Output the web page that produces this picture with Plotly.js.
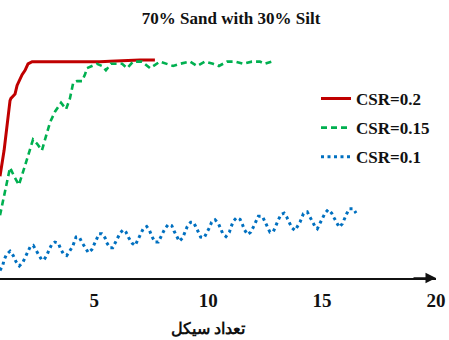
<!DOCTYPE html>
<html>
<head>
<meta charset="utf-8">
<script src="https://cdn.plot.ly/plotly-3.0.1.min.js"></script>
<style>
  html, body { margin: 0; padding: 0; background: #fff; }
  #chart { width: 449px; height: 340px; }
</style>
</head>
<body>
<div id="chart"></div>
<script>
// Pore pressure build-up against number of loading cycles, three cyclic stress ratios
const seriesNames = ['CSR=0.2', 'CSR=0.15', 'CSR=0.1'];

const cyclesCsr020 = [0.86, 1.04, 1.30, 1.34, 1.43, 1.52, 1.61, 1.65, 1.83, 1.96, 2.09, 2.27, 2.62, 3.05, 3.49, 3.93, 4.37, 4.81, 5.25, 5.69, 6.13, 6.56, 7.00, 7.33, 7.66];
const ruCsr020     = [0.47, 0.59, 0.82, 0.83, 0.84, 0.85, 0.89, 0.90, 0.94, 0.96, 0.99, 1.00, 1.00, 0.998, 1.00, 0.998, 1.00, 1.00, 1.00, 1.002, 1.005, 1.005, 1.008, 1.008, 1.008];

const cyclesCsr015 = [0.86, 1.04, 1.17, 1.30, 1.48, 1.69, 1.96, 2.18, 2.31, 2.49, 2.70, 2.92, 3.06, 3.28, 3.54, 3.76, 3.93, 4.07, 4.24, 4.46, 4.59, 4.68, 4.90, 5.12, 5.34, 5.51, 5.73, 6.00, 6.22, 6.44, 6.70, 7.09, 7.45, 7.88, 8.19, 8.46, 8.76, 9.20, 9.51, 9.86, 10.21, 10.47, 10.83, 11.18, 11.53, 11.92, 12.27, 12.49, 12.80];
const ruCsr015     = [0.29, 0.38, 0.46, 0.51, 0.47, 0.43, 0.52, 0.59, 0.64, 0.62, 0.59, 0.67, 0.72, 0.77, 0.81, 0.78, 0.83, 0.90, 0.91, 0.91, 0.94, 0.97, 0.98, 0.99, 0.98, 0.96, 0.99, 0.99, 0.99, 0.97, 1.00, 1.00, 0.97, 1.00, 0.99, 0.98, 0.99, 1.00, 0.98, 1.00, 0.99, 0.98, 1.00, 1.00, 0.99, 1.00, 1.00, 0.99, 1.00];

const cyclesCsr010 = [0.86, 0.98, 1.04, 1.15, 1.30, 1.44, 1.56, 1.71, 1.86, 1.96, 2.06, 2.18, 2.32, 2.47, 2.59, 2.69, 2.79, 2.91, 3.02, 3.13, 3.27, 3.42, 3.52, 3.64, 3.79, 3.93, 4.05, 4.20, 4.34, 4.45, 4.59, 4.74, 4.89, 4.99, 5.11, 5.21, 5.33, 5.47, 5.54, 5.69, 5.81, 5.91, 6.01, 6.13, 6.27, 6.39, 6.51, 6.66, 6.79, 6.91, 7.01, 7.15, 7.30, 7.41, 7.53, 7.66, 7.81, 7.91, 8.00, 8.10, 8.25, 8.40, 8.50, 8.62, 8.73, 8.88, 8.98, 9.08, 9.23, 9.35, 9.45, 9.57, 9.67, 9.82, 9.93, 10.05, 10.15, 10.30, 10.44, 10.55, 10.64, 10.78, 10.93, 11.00, 11.10, 11.25, 11.40, 11.50, 11.59, 11.73, 11.87, 11.98, 12.09, 12.20, 12.38, 12.49, 12.59, 12.71, 12.86, 12.96, 13.08, 13.20, 13.33, 13.45, 13.56, 13.67, 13.81, 13.91, 14.03, 14.18, 14.35, 14.47, 14.59, 14.69, 14.79, 14.91, 15.03, 15.13, 15.27, 15.42, 15.52, 15.64, 15.75, 15.89, 15.97, 16.08, 16.19, 16.37, 16.49];
const ruCsr010     = [0.035, 0.058, 0.084, 0.109, 0.124, 0.104, 0.076, 0.056, 0.072, 0.096, 0.119, 0.143, 0.150, 0.124, 0.100, 0.084, 0.084, 0.104, 0.131, 0.155, 0.166, 0.161, 0.135, 0.112, 0.104, 0.124, 0.146, 0.189, 0.189, 0.166, 0.140, 0.117, 0.131, 0.155, 0.186, 0.205, 0.205, 0.186, 0.164, 0.140, 0.140, 0.161, 0.186, 0.207, 0.223, 0.212, 0.186, 0.161, 0.150, 0.174, 0.200, 0.228, 0.238, 0.223, 0.192, 0.166, 0.166, 0.189, 0.205, 0.228, 0.248, 0.242, 0.217, 0.192, 0.170, 0.186, 0.212, 0.238, 0.258, 0.258, 0.238, 0.212, 0.189, 0.186, 0.205, 0.232, 0.258, 0.269, 0.254, 0.228, 0.205, 0.192, 0.212, 0.235, 0.262, 0.279, 0.271, 0.248, 0.223, 0.201, 0.212, 0.235, 0.263, 0.285, 0.285, 0.258, 0.235, 0.212, 0.215, 0.243, 0.269, 0.294, 0.300, 0.281, 0.257, 0.232, 0.220, 0.235, 0.258, 0.297, 0.305, 0.281, 0.258, 0.238, 0.228, 0.251, 0.274, 0.300, 0.316, 0.300, 0.279, 0.254, 0.235, 0.251, 0.274, 0.297, 0.320, 0.320, 0.300];

const xTickValues = [5, 10, 15, 20];
const chartTitle = '70% Sand with 30% Silt';
const xAxisTitle = 'تعداد سیکل';

const serif = 'Liberation Serif';
const ink = '#111111';

const traces = [
  {
    x: cyclesCsr020, y: ruCsr020, name: seriesNames[0], legendgroup: 'a',
    type: 'scatter', mode: 'lines',
    line: { color: '#C00000', width: 3 }
  },
  {
    x: cyclesCsr015, y: ruCsr015, name: seriesNames[1], legendgroup: 'b',
    type: 'scatter', mode: 'lines',
    line: { color: '#00B050', width: 2.6, dash: '6px,4px' }
  },
  {
    x: cyclesCsr010, y: ruCsr010, name: seriesNames[2], legendgroup: 'c',
    type: 'scatter', mode: 'lines',
    line: { color: '#0070C0', width: 3, dash: '3px,3.5px' }
  }
];

const layout = {
  width: 449,
  height: 340,
  margin: { l: 0, r: 13, t: 40, b: 62 },
  paper_bgcolor: '#ffffff',
  plot_bgcolor: '#ffffff',
  showlegend: true,
  title: {
    text: chartTitle,
    font: { family: serif, size: 17, color: ink, weight: 'bold' },
    x: 238 / 449, xanchor: 'center', xref: 'paper',
    y: 1 - 18.5 / 340, yanchor: 'middle', yref: 'container'
  },
  xaxis: {
    range: [0.86, 20],
    tickvals: xTickValues,
    ticktext: xTickValues.map(String),
    showgrid: false,
    zeroline: false,
    showline: true,
    linecolor: ink,
    linewidth: 1.5,
    ticks: '',
    ticklabelstandoff: 5,
    tickfont: { family: serif, size: 19, color: ink, weight: 'bold' },
    fixedrange: true
  },
  yaxis: {
    range: [0, 1.1],
    showgrid: false,
    zeroline: false,
    showline: false,
    showticklabels: false,
    ticks: '',
    fixedrange: true
  },
  legend: {
    x: 316 / 436, xanchor: 'left',
    y: 0.828, yanchor: 'top',
    bgcolor: 'rgba(0,0,0,0)',
    tracegroupgap: 4,
    font: { family: serif, size: 17, color: ink, weight: 'bold' }
  },
  annotations: [
    {
      // arrowhead closing the cycle axis
      x: 20, y: 0, xref: 'x', yref: 'y',
      ax: -24, ay: 0, axref: 'pixel', ayref: 'pixel',
      text: '', showarrow: true,
      arrowhead: 2, arrowsize: 1.4, arrowwidth: 1.5, arrowcolor: ink,
      standoff: 0
    },
    {
      x: 10, y: 0, xref: 'x', yref: 'y',
      yshift: -50, yanchor: 'middle', xanchor: 'center',
      text: xAxisTitle, showarrow: false,
      font: { family: serif, size: 16, color: ink, weight: 'bold' }
    }
  ]
};

Plotly.newPlot('chart', traces, layout, { staticPlot: true, displayModeBar: false });
</script>
</body>
</html>
